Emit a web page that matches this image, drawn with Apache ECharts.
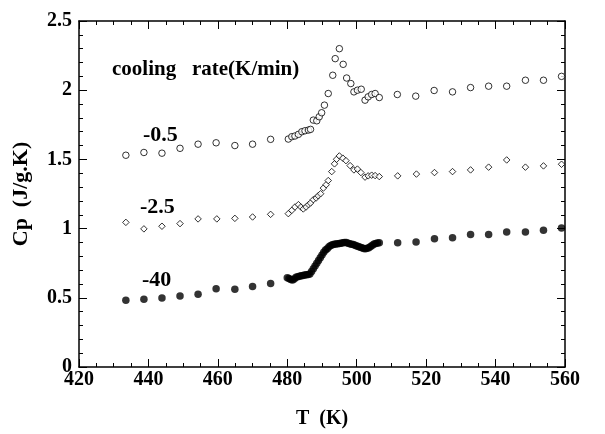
<!DOCTYPE html>
<html>
<head>
<meta charset="utf-8">
<script src="https://cdn.jsdelivr.net/npm/echarts@6/dist/echarts.min.js"></script>
<style>
  html, body { margin: 0; padding: 0; background: #fff; }
  #main { width: 605px; height: 434px; }
</style>
</head>
<body>
<div id="main"></div>
<script>
// 冷却速度 -0.5 K/min (空心圆)
var tSlow = [433.5, 438.7, 443.9, 449.1, 454.3, 459.5, 464.9, 470.0, 475.2,
  480.3, 481.3, 482.2, 483.2, 484.2, 485.1, 486.1, 486.7, 487.5, 488.5, 489.2, 489.9,
  490.7, 491.8, 493.1, 493.8, 495.0, 496.1, 497.1, 498.3, 499.2, 500.2, 501.3,
  502.4, 503.3, 504.3, 505.3, 506.5,
  511.7, 517.0, 522.3, 527.6, 532.8, 538.0, 543.2, 548.6, 553.8, 559.0];
var cpSlow = [1.53, 1.55, 1.545, 1.58, 1.61, 1.62, 1.60, 1.61, 1.645,
  1.647, 1.664, 1.669, 1.681, 1.70, 1.707, 1.712, 1.717, 1.784, 1.779, 1.808, 1.837,
  1.892, 1.976, 2.108, 2.228, 2.30, 2.187, 2.088, 2.048, 1.988, 2.0, 2.007,
  1.928, 1.952, 1.969, 1.976, 1.947,
  1.969, 1.957, 1.998, 1.988, 2.019, 2.029, 2.029, 2.072, 2.072, 2.10];

// 冷却速度 -2.5 K/min (空心菱形)
var tMid = [433.5, 438.7, 443.9, 449.1, 454.3, 459.7, 464.9, 470.0, 475.2,
  480.3, 481.3, 482.2, 483.2, 483.9, 484.6, 485.4, 486.1, 486.7, 487.5, 488.3, 488.9,
  489.6, 490.4, 491.2, 491.8, 492.8, 493.6, 494.2, 495.0, 496.0, 496.9, 498.1,
  499.2, 500.2, 501.2, 502.4, 503.3, 504.3, 505.3, 506.5,
  511.8, 517.2, 522.4, 527.6, 532.8, 538.0, 543.2, 548.6, 553.8, 559.0];
var cpMid = [1.045, 0.998, 1.017, 1.036, 1.07, 1.07, 1.074, 1.084, 1.103,
  1.108, 1.132, 1.156, 1.173, 1.156, 1.142, 1.156, 1.173, 1.185, 1.209, 1.221, 1.237,
  1.252, 1.293, 1.317, 1.347, 1.412, 1.468, 1.501, 1.525, 1.509, 1.491, 1.455,
  1.424, 1.43, 1.405, 1.372, 1.381, 1.386, 1.383, 1.376,
  1.381, 1.394, 1.405, 1.412, 1.424, 1.444, 1.496, 1.444, 1.453, 1.465];

// 冷却速度 -40 K/min (实心圆)
var tFast = [433.5, 438.7, 443.9, 449.1, 454.3, 459.5, 464.9, 470.0, 475.2,
  480.0, 480.5, 481.0, 481.5, 482.0, 482.5, 483.0, 483.5, 484.0, 484.5, 485.0, 485.5,
  486.0, 486.5, 487.0, 487.5, 488.0, 488.5, 489.0, 489.5, 490.0, 490.5, 491.0, 491.5,
  492.0, 492.5, 493.0, 493.5, 494.0, 494.5, 495.0, 495.5, 496.0, 496.5, 497.0, 497.5,
  498.0, 498.5, 499.0, 499.5, 500.0, 500.5, 501.0, 501.5, 502.0, 502.5, 503.0, 503.5,
  504.0, 504.5, 505.0, 505.5, 506.0, 506.5,
  511.8, 517.1, 522.4, 527.6, 532.8, 538.0, 543.2, 548.6, 553.8, 559.0];
var cpFast = [0.482, 0.489, 0.499, 0.513, 0.525, 0.566, 0.561, 0.581, 0.604,
  0.645, 0.64, 0.632, 0.628, 0.635, 0.648, 0.652, 0.655, 0.66, 0.662, 0.664, 0.666,
  0.668, 0.672, 0.69, 0.71, 0.73, 0.75, 0.77, 0.79, 0.81, 0.83, 0.845, 0.855,
  0.868, 0.878, 0.884, 0.887, 0.889, 0.89, 0.892, 0.895, 0.897, 0.9, 0.9, 0.895,
  0.89, 0.887, 0.885, 0.88, 0.875, 0.87, 0.866, 0.862, 0.856, 0.855, 0.858, 0.862,
  0.87, 0.88, 0.888, 0.893, 0.896, 0.898,
  0.897, 0.904, 0.926, 0.933, 0.957, 0.957, 0.976, 0.976, 0.988, 1.005];

var rateLabels = ['-0.5', '-2.5', '-40'];

function pairs(xs, ys) {
  return xs.map(function (x, i) { return [x, ys[i]]; });
}

var serif = '"Liberation Serif", "Times New Roman", serif';
var myChart = echarts.init(document.getElementById('main'));

// 刻度朝内, 四边都有
function ax(extra, split) {
  return Object.assign({
    type: 'value',
    axisLine: { show: true, onZero: false, lineStyle: { color: '#000', width: 1.5 } },
    axisTick: { show: true, inside: true, length: 8, lineStyle: { color: '#000', width: 1 } },
    minorTick: { show: true, splitNumber: split, length: 4, lineStyle: { color: '#000', width: 1 } },
    splitLine: { show: false }
  }, extra);
}

var tickFont = { fontFamily: serif, fontSize: 20, fontWeight: 'bold', color: '#000' };

var option = {
  animation: false,
  backgroundColor: '#fff',
  grid: { left: 79, right: 40, top: 21, bottom: 66 },
  xAxis: [
    ax({
      min: 420, max: 560, interval: 20, position: 'bottom',
      name: 'T  (K)', nameLocation: 'middle', nameGap: 42,
      nameTextStyle: { fontFamily: serif, fontSize: 20, fontWeight: 'bold', color: '#000' },
      axisLabel: Object.assign({ margin: 3 }, tickFont)
    }, 4),
    ax({
      min: 420, max: 560, interval: 20, position: 'top',
      axisLabel: { show: false }
    }, 4)
  ],
  yAxis: [
    ax({
      min: 0, max: 2.5, interval: 0.5, position: 'left',
      name: 'Cp  (J/g.K)', nameLocation: 'middle', nameGap: 47,
      nameTextStyle: { fontFamily: serif, fontSize: 22, fontWeight: 'bold', color: '#000' },
      axisLabel: Object.assign({ margin: 7 }, tickFont)
    }, 5),
    ax({
      min: 0, max: 2.5, interval: 0.5, position: 'right',
      axisLabel: { show: false }
    }, 5)
  ],
  graphic: [
    { type: 'text', x: 112, y: 70,
      style: { text: 'cooling   rate(K/min)', font: 'bold 21px "Liberation Serif"', fill: '#000', verticalAlign: 'middle' } },
    { type: 'text', x: 143, y: 135,
      style: { text: rateLabels[0], font: 'bold 22px "Liberation Serif"', fill: '#000', verticalAlign: 'middle' } },
    { type: 'text', x: 140, y: 207,
      style: { text: rateLabels[1], font: 'bold 22px "Liberation Serif"', fill: '#000', verticalAlign: 'middle' } },
    { type: 'text', x: 142, y: 280,
      style: { text: rateLabels[2], font: 'bold 22px "Liberation Serif"', fill: '#000', verticalAlign: 'middle' } }
  ],
  series: [
    {
      name: rateLabels[0], type: 'scatter', symbol: 'circle', symbolSize: 6.5,
      itemStyle: { color: '#fff', borderColor: '#000', borderWidth: 1 },
      data: pairs(tSlow, cpSlow)
    },
    {
      name: rateLabels[1], type: 'scatter', symbol: 'diamond', symbolSize: 6.5,
      itemStyle: { color: '#fff', borderColor: '#000', borderWidth: 1 },
      data: pairs(tMid, cpMid)
    },
    {
      name: rateLabels[2], type: 'scatter', symbol: 'circle', symbolSize: 7.5,
      itemStyle: { color: '#000' },
      data: pairs(tFast, cpFast)
    }
  ]
};

myChart.setOption(option);
</script>
</body>
</html>
